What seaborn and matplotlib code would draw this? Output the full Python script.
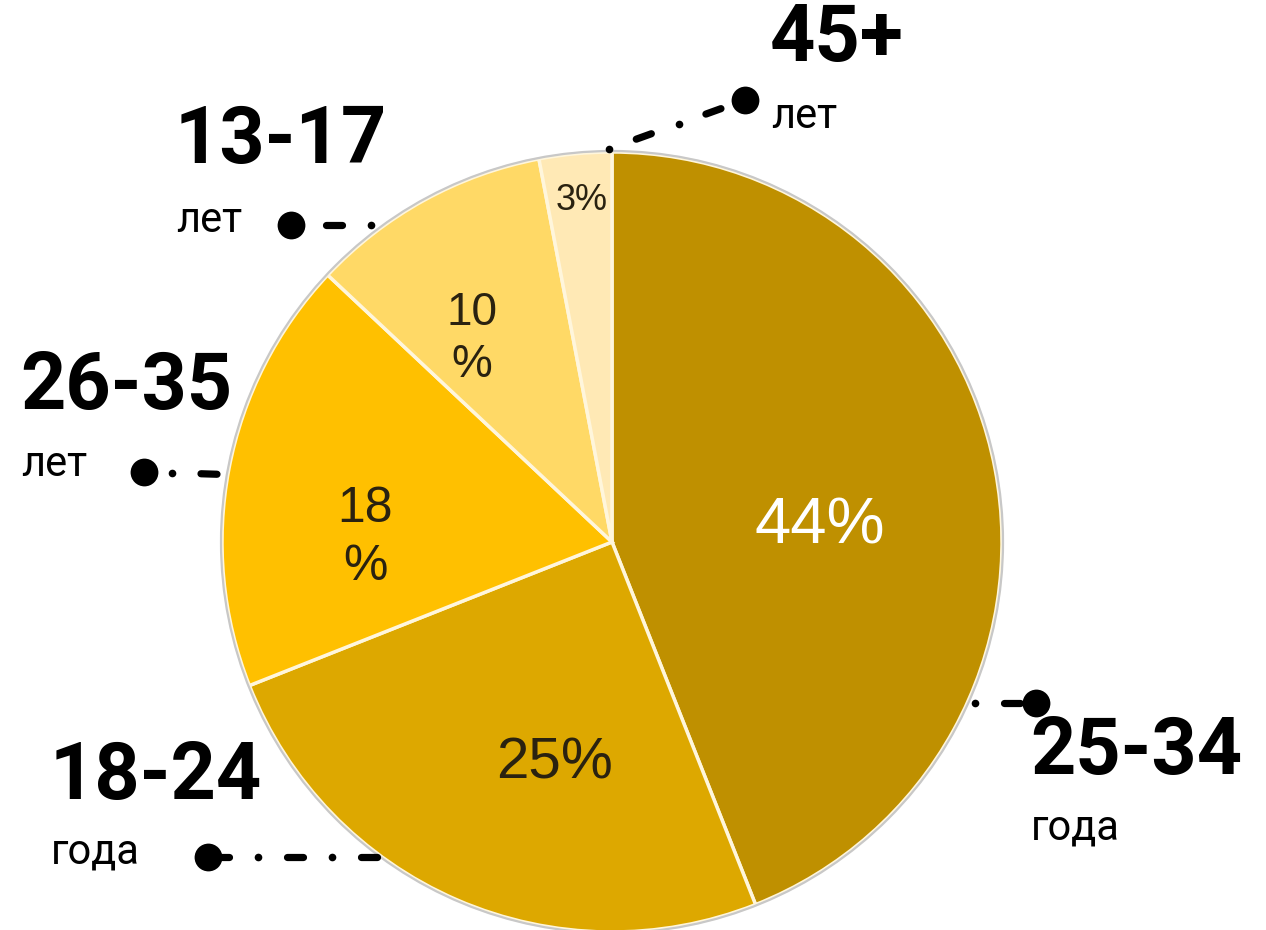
import numpy as np
import matplotlib
matplotlib.use("Agg")
import matplotlib.pyplot as plt
import matplotlib.patches as mpatches
import seaborn as sns

# ---- data ----
groups = ["25-34", "18-24", "26-35", "13-17", "45+"]
units = ["года", "года", "лет", "лет", "лет"]
shares = [44, 25, 18, 10, 3]
pct_text = ["44%", "25%", "18\n%", "10\n%", "3%"]
colors = ["#BF9000", "#DDA800", "#FFC000", "#FFD966", "#FFE9B5"]

sns.set_theme(style="white")
plt.rcParams["font.family"] = ["Roboto", "DejaVu Sans"]

W, H = 1266, 930
fig = plt.figure(figsize=(W / 100, H / 100), dpi=100)
ax = fig.add_axes([0, 0, 1, 1])
ax.set_xlim(0, W)
ax.set_ylim(0, H)
ax.set_aspect("equal")
ax.axis("off")

def Y(y):
    return H - y

cx, cy, R = 612, 542, 390
wedges, _ = ax.pie(shares, colors=colors, startangle=90, counterclock=False,
                   center=(cx, Y(cy)), radius=R,
                   wedgeprops=dict(edgecolor="#FFF6DC", linewidth=2.5))
ax.add_patch(mpatches.Circle((cx, Y(cy)), R + 1, fill=False,
                             edgecolor="#C8C8C8", linewidth=1.6, zorder=3))
ax.set_xlim(0, W)
ax.set_ylim(0, H)

# percentage labels
pct_pos = [(820, 527), (555, 763), (365, 538), (472, 339), (582, 200)]
pct_size = [47, 42, 36, 33, 26]
pct_col = ["white", "#2A2210", "#2A2210", "#2A2210", "#2A2210"]
pct_ls = [1.0, 1.0, 1.35, 1.25, 1.0]
for t, (x, y), s, c, ls in zip(pct_text, pct_pos, pct_size, pct_col, pct_ls):
    ax.text(x, Y(y), t, ha="center", va="center", fontsize=s, color=c,
            family=["Liberation Sans", "DejaVu Sans"], linespacing=ls, zorder=4)

# category labels
lab_pos = [(1030, 752, 828), (50, 777, 852), (20, 388, 465), (175, 142, 220), (770, 40, 117)]
for g, u, (x, y1, y2) in zip(groups, units, lab_pos):
    ax.text(x, Y(y1), g, ha="left", va="center", fontsize=57, fontweight="bold",
            color="black", zorder=5)
    ax.text(x + 1, Y(y2), u, ha="left", va="center", fontsize=30,
            fontweight="normal", color="black", zorder=5)

# leader lines: (start point at pie side, circle point, pattern from pie side)
leaders = [((975, 703), (1036, 703), ".-"),
           ((369, 857), (208, 857), "-.-.-"),
           ((209, 474), (144, 472), "-."),
           ((371, 225), (291, 225), ".-"),
           ((609, 149), (745, 100), ".-.-")]
step = 37.0
for (x0, y0), (x1, y1), pat in leaders:
    d = np.hypot(x1 - x0, y1 - y0)
    ux, uy = (x1 - x0) / d, (y1 - y0) / d
    for i, ch in enumerate(pat):
        px, py = x0 + ux * step * i, y0 + uy * step * i
        if ch == ".":
            ax.plot([px], [Y(py)], "o", color="black", markersize=5.5,
                    markeredgewidth=0, zorder=6)
        else:
            h = 8.0
            ax.plot([px - ux * h, px + ux * h], [Y(py - uy * h), Y(py + uy * h)],
                    color="black", linewidth=5.2, solid_capstyle="round", zorder=6)
    ax.plot([x1], [Y(y1)], "o", color="black", markersize=20,
            markeredgewidth=0, zorder=6)

fig.savefig("out.png", dpi=100, facecolor="white")
